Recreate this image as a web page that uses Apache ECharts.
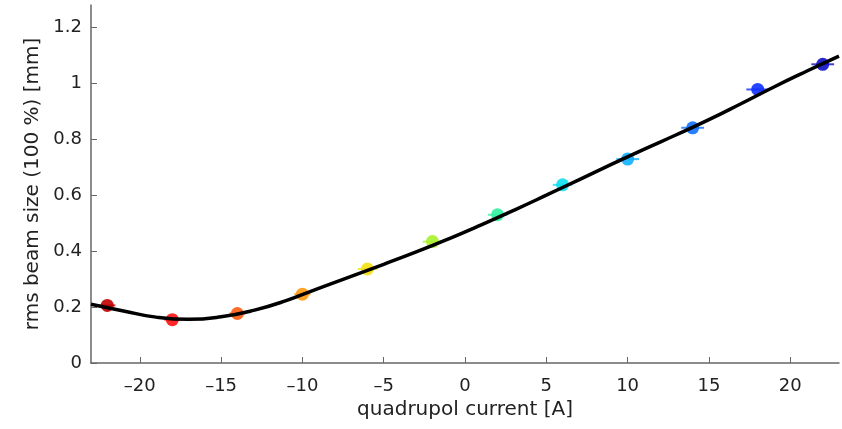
<!DOCTYPE html>
<html><head><meta charset="utf-8">
<script src="https://cdn.jsdelivr.net/npm/echarts@6/dist/echarts.min.js"></script>
<style>html,body{margin:0;padding:0;background:#fff}#c{width:842px;height:429px}</style>
</head><body><div id="c"></div>
<script>
var currents = [-22, -18, -14, -10, -6, -2, 2, 6, 10, 14, 18, 22];
var beamSize = [0.206, 0.155, 0.177, 0.246, 0.336, 0.434, 0.530, 0.637, 0.729, 0.841, 0.978, 1.068];
var currentErr = [0.5, 0.5, 0.5, 0.5, 0.6, 0.6, 0.6, 0.6, 0.7, 0.7, 0.7, 0.7];
var pointColors = ['#c00000', '#ff1010', '#ff5a10', '#ff9a10', '#f5e010', '#a8f030', '#30f0a0', '#10e0f0', '#10b0ff', '#1070ff', '#1030ff', '#1010c8'];
var fitX = [-23, -21, -19, -17, -15, -13, -11, -9, -7, -5, -3, -1, 1, 3, 5, 7, 9, 11, 13, 15, 17, 19, 21, 23];
var fitY = [0.210, 0.186, 0.164, 0.156, 0.165, 0.188, 0.223, 0.267, 0.310, 0.353, 0.397, 0.444, 0.494, 0.546, 0.600, 0.655, 0.710, 0.764, 0.816, 0.870, 0.928, 0.987, 1.043, 1.097];
var xTicks = [-20, -15, -10, -5, 0, 5, 10, 15, 20];
var yTicks = [0, 0.2, 0.4, 0.6, 0.8, 1, 1.2];

var font = '"DejaVu Sans", sans-serif';
var chart = echarts.init(document.getElementById('c'));
var pts = currents.map(function (c, i) {
  return { value: [c, beamSize[i]], itemStyle: { color: pointColors[i] } };
});
var errs = currents.map(function (c, i) {
  return { value: [c - currentErr[i], c + currentErr[i], beamSize[i]], itemStyle: { color: pointColors[i] } };
});
chart.setOption({
  animation: false,
  grid: { left: 91, right: 3, top: 5, bottom: 66 },
  xAxis: {
    type: 'value', min: -23, max: 23,
    name: 'quadrupol current [A]', nameLocation: 'middle', nameGap: 33,
    nameTextStyle: { fontFamily: font, fontSize: 20, color: '#222' },
    axisLine: { show: true, onZero: false, lineStyle: { color: '#666', width: 1.5 } },
    axisTick: { show: true, inside: true, length: 6, lineStyle: { color: '#666' },
      customValues: xTicks },
    axisLabel: { fontFamily: font, fontSize: 18, color: '#222', margin: 14,
      customValues: xTicks,
      formatter: function (v) { return String(v).replace('-', '\u2013'); } },
    splitLine: { show: false }
  },
  yAxis: {
    type: 'value', min: 0, max: 1.28,
    name: 'rms beam size (100 %) [mm]', nameLocation: 'middle', nameGap: 48,
    nameTextStyle: { fontFamily: font, fontSize: 20, color: '#222' },
    axisLine: { show: true, onZero: false, lineStyle: { color: '#666', width: 1.5 } },
    axisTick: { show: true, inside: true, length: 6, lineStyle: { color: '#666' },
      customValues: yTicks },
    axisLabel: { fontFamily: font, fontSize: 18, color: '#222', margin: 9,
      customValues: yTicks,
      formatter: function (v) { return String(v); } },
    splitLine: { show: false }
  },
  series: [
    {
      type: 'custom',
      renderItem: function (params, api) {
        var a = api.coord([api.value(0), api.value(2)]);
        var b = api.coord([api.value(1), api.value(2)]);
        return { type: 'line', shape: { x1: a[0], y1: a[1], x2: b[0], y2: b[1] },
          style: { stroke: api.visual('color'), lineWidth: 2, opacity: 0.8 } };
      },
      data: errs, z: 1
    },
    {
      type: 'scatter', symbol: 'circle', symbolSize: 13, data: pts, z: 2,
      itemStyle: { opacity: 0.9 }
    },
    {
      type: 'line', smooth: 0.5, showSymbol: false, z: 3,
      data: fitX.map(function (x, i) { return [x, fitY[i]]; }),
      lineStyle: { color: '#000', width: 3.5 }
    }
  ]
});
</script></body></html>
